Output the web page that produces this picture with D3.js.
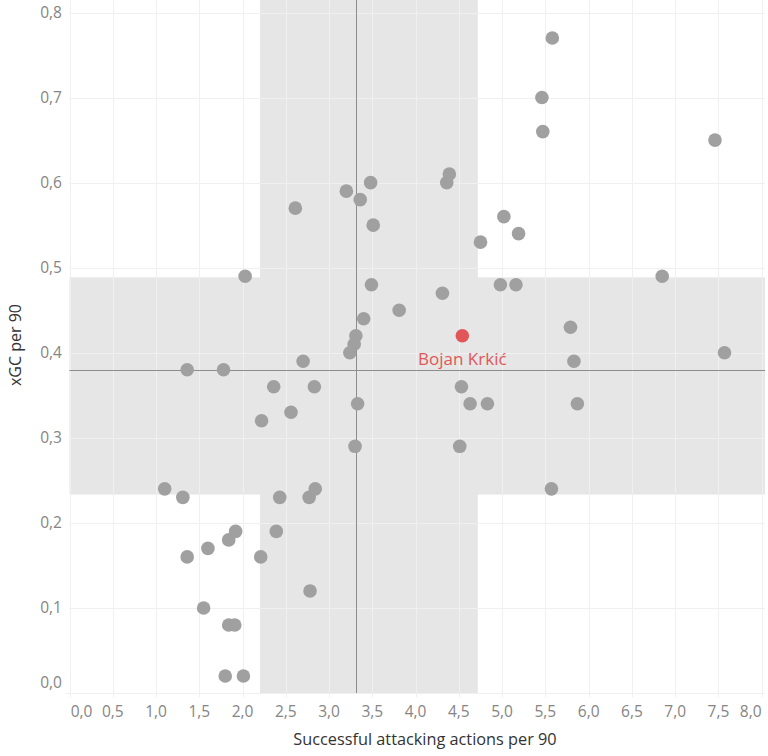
<!DOCTYPE html>
<html lang="en">
<head>
<meta charset="UTF-8">
<title>xGC vs successful attacking actions</title>
<script src="https://cdn.jsdelivr.net/npm/d3@7"></script>
<style>
  body { margin: 0; background: #fff; }
  text { font-family: "Open Sans", sans-serif; }
</style>
</head>
<body>
<script>
// successful attacking actions per 90 / xGC per 90 for each player
const actions = [2.61, 3.20, 3.36, 3.48, 3.51, 4.36, 4.39, 4.75, 5.02, 5.58,
                 5.46, 5.47, 7.46, 5.19, 4.98, 5.16, 6.85, 5.79, 5.83, 7.57,
                 5.87, 5.57, 3.49, 4.31, 3.81, 3.40, 3.31, 3.29, 3.24, 2.70,
                 2.36, 2.83, 4.53, 3.33, 4.63, 4.83, 2.56, 2.22, 3.30, 4.51,
                 2.03, 2.84, 2.43, 2.77, 2.39, 2.21, 2.78, 1.10, 1.31, 1.92,
                 1.84, 1.60, 1.36, 1.55, 1.84, 1.91, 1.80, 2.01, 1.36, 1.78];
const xgc =     [0.57, 0.59, 0.58, 0.60, 0.55, 0.60, 0.61, 0.53, 0.56, 0.77,
                 0.70, 0.66, 0.65, 0.54, 0.48, 0.48, 0.49, 0.43, 0.39, 0.40,
                 0.34, 0.24, 0.48, 0.47, 0.45, 0.44, 0.42, 0.41, 0.40, 0.39,
                 0.36, 0.36, 0.36, 0.34, 0.34, 0.34, 0.33, 0.32, 0.29, 0.29,
                 0.49, 0.24, 0.23, 0.23, 0.19, 0.16, 0.12, 0.24, 0.23, 0.19,
                 0.18, 0.17, 0.16, 0.10, 0.08, 0.08, 0.02, 0.02, 0.38, 0.38];

const highlight = { name: "Bojan Krkić", actions: 4.54, xgc: 0.42 };

// average lines and the shaded band around them
const avgActions = 3.316, avgXgc = 0.3796;
const bandActions = [2.202, 4.719];
const bandXgc = [0.2333, 0.4886];

const xTicks = d3.range(0, 8.01, 0.5);
const yTicks = d3.range(0, 0.81, 0.1);

const width = 768, height = 756;
const plotLeft = 69.5, plotRight = 765, plotTop = 0, plotBottom = 693;

const x = d3.scaleLinear().domain([0, 8]).range([plotLeft, 761.7]);
const y = d3.scaleLinear().domain([0, 0.8]).range([plotBottom, 12.5]);
const fmt = v => d3.format(".1f")(v).replace(".", ",");

const svg = d3.select("body").append("svg")
    .attr("width", width).attr("height", height);

// shaded cross
svg.append("rect")
    .attr("x", x(bandActions[0])).attr("y", plotTop)
    .attr("width", x(bandActions[1]) - x(bandActions[0]))
    .attr("height", plotBottom - plotTop)
    .attr("fill", "#e6e6e6");
svg.append("rect")
    .attr("x", plotLeft).attr("y", y(bandXgc[1]))
    .attr("width", plotRight - plotLeft)
    .attr("height", y(bandXgc[0]) - y(bandXgc[1]))
    .attr("fill", "#e6e6e6");

// gridlines
svg.append("g").selectAll("line").data(xTicks).join("line")
    .attr("x1", d => Math.round(x(d)) + 0.5).attr("x2", d => Math.round(x(d)) + 0.5)
    .attr("y1", plotTop).attr("y2", plotBottom + 4)
    .attr("stroke", "#f0f0f0").attr("stroke-width", 1);
svg.append("g").selectAll("line").data(yTicks).join("line")
    .attr("x1", d => d === 0 ? plotLeft - 4 : plotLeft).attr("x2", plotRight)
    .attr("y1", d => Math.round(y(d)) + 0.5).attr("y2", d => Math.round(y(d)) + 0.5)
    .attr("stroke", "#f0f0f0").attr("stroke-width", 1);

// average lines
svg.append("line")
    .attr("x1", Math.round(x(avgActions)) + 0.5).attr("x2", Math.round(x(avgActions)) + 0.5)
    .attr("y1", plotTop).attr("y2", plotBottom)
    .attr("stroke", "#8c8c8c");
svg.append("line")
    .attr("x1", plotLeft).attr("x2", plotRight)
    .attr("y1", Math.round(y(avgXgc)) + 0.5).attr("y2", Math.round(y(avgXgc)) + 0.5)
    .attr("stroke", "#8c8c8c");

// tick labels
svg.append("g").selectAll("text").data(xTicks).join("text")
    .attr("x", (d, i) => i === 0 ? x(d) + 12 : (i === xTicks.length - 1 ? x(d) - 11 : x(d)))
    .attr("y", 717)
    .attr("text-anchor", "middle")
    .attr("font-size", 15.5)
    .attr("fill", "#858585")
    .text(fmt);
svg.append("g").selectAll("text").data(yTicks).join("text")
    .attr("x", 62)
    .attr("y", d => d === 0 ? y(d) - 5 : y(d) + 5.5)
    .attr("text-anchor", "end")
    .attr("font-size", 15.5)
    .attr("fill", "#858585")
    .text(fmt);

// axis titles
svg.append("text")
    .attr("x", 425).attr("y", 745)
    .attr("text-anchor", "middle")
    .attr("font-size", 16.3)
    .attr("fill", "#333")
    .text("Successful attacking actions per 90");
svg.append("text")
    .attr("transform", "translate(21,345) rotate(-90)")
    .attr("text-anchor", "middle")
    .attr("font-size", 16)
    .attr("fill", "#333")
    .text("xGC per 90");

// players
svg.append("g").selectAll("circle").data(actions).join("circle")
    .attr("cx", d => x(d))
    .attr("cy", (d, i) => y(xgc[i]))
    .attr("r", 6.8)
    .attr("fill", "#a0a0a0");

svg.append("circle")
    .attr("cx", x(highlight.actions)).attr("cy", y(highlight.xgc))
    .attr("r", 6.8)
    .attr("fill", "#e15759");
svg.append("text")
    .attr("x", x(highlight.actions)).attr("y", y(highlight.xgc) + 29)
    .attr("text-anchor", "middle")
    .attr("font-size", 17)
    .attr("fill", "#e15759")
    .text(highlight.name);
</script>
</body>
</html>
